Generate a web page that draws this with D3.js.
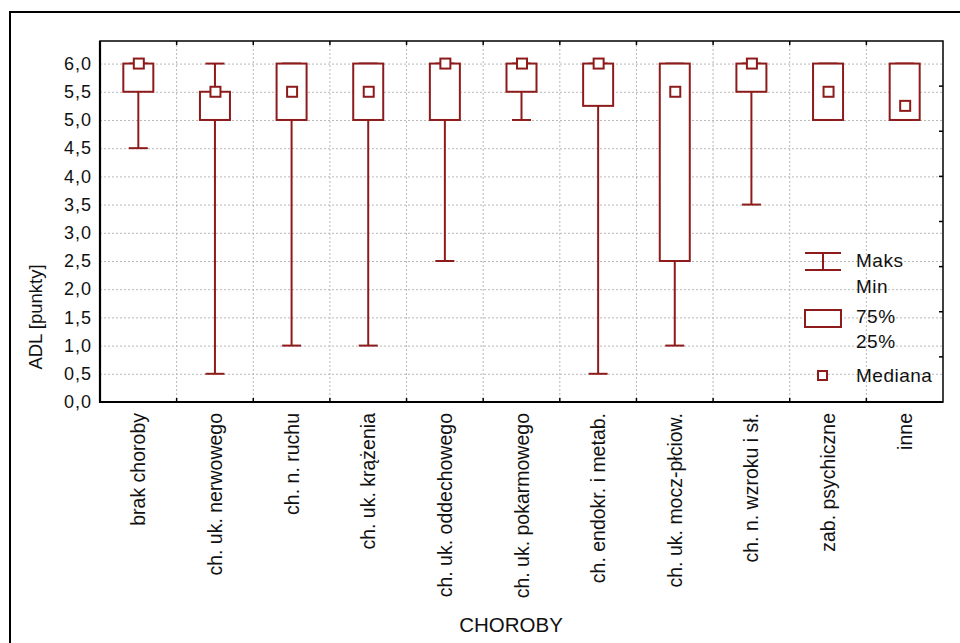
<!DOCTYPE html>
<html>
<head>
<meta charset="utf-8">
<script src="https://cdn.jsdelivr.net/npm/d3@7"></script>
<style>
  body { margin: 0; background: #fff; }
  svg { display: block; font-family: "Liberation Sans", Arial, sans-serif; }
  .grid line { stroke: #b8b8b8; stroke-dasharray: 2,2; }
  .grid .domain { display: none; }
</style>
</head>
<body>
<div class="chart"></div>
<script>
const categories = ['brak choroby', 'ch. uk. nerwowego', 'ch. n. ruchu', 'ch. uk. krążenia',
  'ch. uk. oddechowego', 'ch. uk. pokarmowego', 'ch. endokr. i metab.', 'ch. uk. mocz-płciow.',
  'ch. n. wzroku i sł.', 'zab. psychiczne', 'inne']
const mins    = [4.5, 0.5, 1.0, 1.0, 2.5, 5.0, 0.5, 1.0, 3.5, 5.0, 5.0]
const q1s     = [5.5, 5.0, 5.0, 5.0, 5.0, 5.5, 5.25, 2.5, 5.5, 5.0, 5.0]
const medians = [6.0, 5.5, 5.5, 5.5, 6.0, 6.0, 6.0, 5.5, 6.0, 5.5, 5.25]
const q3s     = [6.0, 5.5, 6.0, 6.0, 6.0, 6.0, 6.0, 6.0, 6.0, 6.0, 6.0]
const maxs    = [6.0, 6.0, 6.0, 6.0, 6.0, 6.0, 6.0, 6.0, 6.0, 6.0, 6.0]
const yTicks = d3.range(0, 6.01, 0.5)
const legendLabels = [['Maks', 'Min'], ['75%', '25%'], ['Mediana']]

const W = 960, H = 643
const margin = ({top: 41, right: 17, bottom: 241, left: 100})
const width = W - margin.left - margin.right
const height = H - margin.top - margin.bottom
const red = '#8e1b1b'

const data = categories.map((c, i) => ({cat: c, min: mins[i], q1: q1s[i], med: medians[i], q3: q3s[i], max: maxs[i]}))

const root = d3.select('.chart').append('svg')
    .attr('width', W)
    .attr('height', H)

// outer frame
root.append('rect')
    .attr('x', 10).attr('y', 12)
    .attr('width', W).attr('height', H)
    .attr('fill', 'none').attr('stroke', '#000').attr('stroke-width', 2)

const svg = root.append('g')
    .attr('transform', `translate(${margin.left},${margin.top})`)

// SCALES
const xScale = d3.scaleBand()
    .domain(categories)
    .range([0, width])

const yScale = d3.scaleLinear()
    .domain([0, 6.4])
    .range([height, 0])

const yRight = d3.scaleLinear()
    .domain([0, 8])
    .range([height, 0])

const bounds = d3.range(1, categories.length).map(i => i * xScale.bandwidth())

// GRID
svg.append('g').attr('class', 'grid')
    .call(d3.axisLeft(yScale).tickValues(yTicks.slice(1)).tickSize(-width).tickFormat(''))
svg.append('g').attr('class', 'grid')
    .selectAll('line').data(bounds).join('line')
    .attr('x1', d => d).attr('x2', d => d)
    .attr('y1', 0).attr('y2', height)

// AXES
const yAxis = d3.axisLeft(yScale)
    .tickValues(yTicks)
    .tickSize(0)
    .tickPadding(8)
    .tickFormat(d => d3.format('.1f')(d).replace('.', ','))

svg.append('g')
    .call(yAxis)
    .call(g => g.select('.domain').remove())
    .selectAll('text')
    .attr('font-size', 18)
    .attr('letter-spacing', 1)
    .attr('font-family', '"Liberation Sans", Arial, sans-serif')
    .attr('fill', '#111')

// inward ticks on the frame
svg.append('g')
    .selectAll('line').data(bounds).join('line')
    .attr('x1', d => d).attr('x2', d => d)
    .attr('y1', height).attr('y2', height - 4)
    .attr('stroke', '#000').attr('stroke-width', 1.5)
svg.append('g')
    .selectAll('line').data(bounds).join('line')
    .attr('x1', d => d).attr('x2', d => d)
    .attr('y1', 0).attr('y2', 4)
    .attr('stroke', '#000').attr('stroke-width', 1.5)
svg.append('g')
    .selectAll('line').data(yRight.ticks(8).slice(1, -1)).join('line')
    .attr('x1', width).attr('x2', width - 4)
    .attr('y1', d => yRight(d)).attr('y2', d => yRight(d))
    .attr('stroke', '#000').attr('stroke-width', 1.5)

// plot frame
svg.append('rect')
    .attr('width', width).attr('height', height)
    .attr('fill', 'none').attr('stroke', '#000').attr('stroke-width', 1.5)
svg.append('path')
    .attr('d', `M0,0V${height}H${width}`)
    .attr('fill', 'none').attr('stroke', '#000').attr('stroke-width', 2.2)

// category labels
svg.append('g')
    .selectAll('text').data(categories).join('text')
    .attr('transform', d => `translate(${xScale(d) + xScale.bandwidth() / 2 + 7},${height + 11}) rotate(-90)`)
    .attr('text-anchor', 'end')
    .attr('font-size', 19.5)
    .attr('fill', '#111')
    .text(d => d)

// axis titles
root.append('text')
    .attr('x', 511)
    .attr('y', 632)
    .attr('text-anchor', 'middle')
    .attr('font-size', 20.5)
    .attr('fill', '#111')
    .text('CHOROBY')

root.append('text')
    .attr('transform', 'translate(42,317) rotate(-90)')
    .attr('text-anchor', 'middle')
    .attr('font-size', 18.5)
    .attr('fill', '#111')
    .text('ADL [punkty]')

// BOXES
const boxW = 30, capW = 19, medS = 10
const boxes = svg.append('g')
    .selectAll('g')
    .data(data)
    .join('g')
    .attr('transform', d => `translate(${xScale(d.cat) + xScale.bandwidth() / 2},0)`)
    .attr('stroke', red)
    .attr('stroke-width', 2)

boxes.append('line')
    .attr('y1', d => yScale(d.max)).attr('y2', d => yScale(d.min))
boxes.append('line')
    .attr('x1', -capW / 2).attr('x2', capW / 2)
    .attr('y1', d => yScale(d.max)).attr('y2', d => yScale(d.max))
boxes.append('line')
    .attr('x1', -capW / 2).attr('x2', capW / 2)
    .attr('y1', d => yScale(d.min)).attr('y2', d => yScale(d.min))
boxes.append('rect')
    .attr('x', -boxW / 2).attr('width', boxW)
    .attr('y', d => yScale(d.q3))
    .attr('height', d => yScale(d.q1) - yScale(d.q3))
    .attr('fill', '#fff')
boxes.append('rect')
    .attr('x', -medS / 2 + 0.5).attr('width', medS)
    .attr('y', d => yScale(d.med) - medS / 2)
    .attr('height', medS)
    .attr('fill', '#fff')

// LEGEND
const legend = root.append('g')
    .attr('font-size', 19)
    .attr('letter-spacing', 0.5)
    .attr('fill', '#111')

const lg = legend.append('g').attr('stroke', red).attr('stroke-width', 2).attr('fill', '#fff')
lg.append('line').attr('x1', 805).attr('x2', 841).attr('y1', 253).attr('y2', 253)
lg.append('line').attr('x1', 805).attr('x2', 841).attr('y1', 270).attr('y2', 270)
lg.append('line').attr('x1', 823).attr('x2', 823).attr('y1', 253).attr('y2', 270)
lg.append('rect').attr('x', 805).attr('y', 310).attr('width', 36).attr('height', 17)
lg.append('rect').attr('x', 818).attr('y', 371).attr('width', 9).attr('height', 9)

const legendY = [[267, 293], [323, 348], [382]]
legendLabels.forEach((lines, i) => {
    lines.forEach((t, j) => {
        legend.append('text')
            .attr('x', 856)
            .attr('y', legendY[i][j])
            .text(t)
    })
})
</script>
</body>
</html>
